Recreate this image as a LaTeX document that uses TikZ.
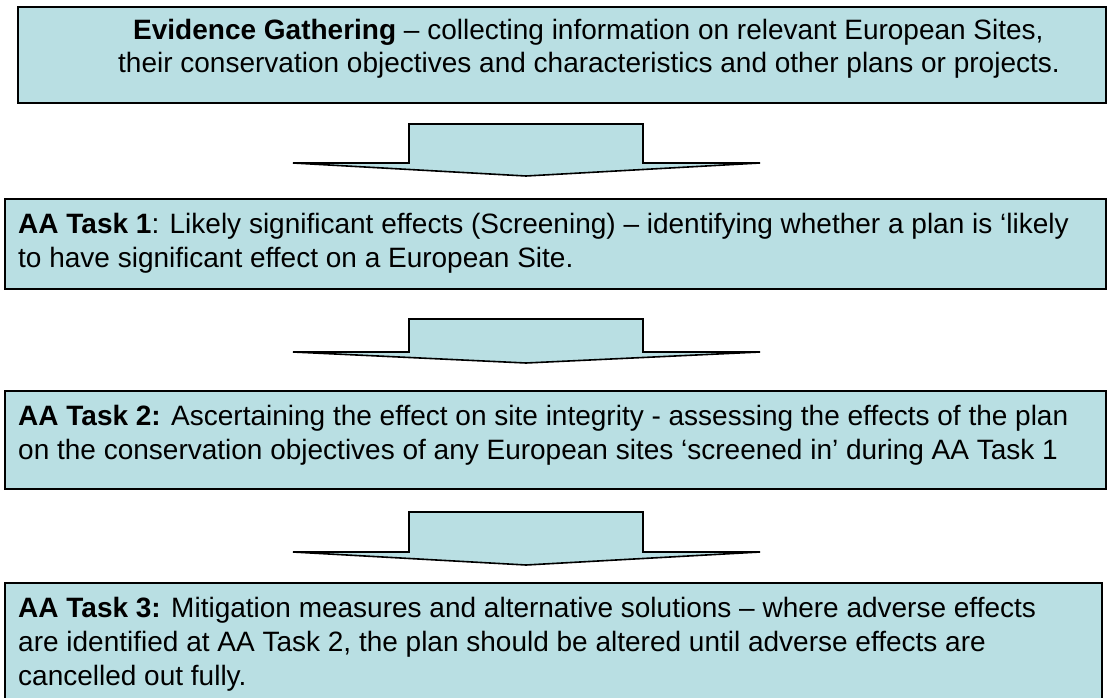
\documentclass[tikz,border=0pt]{standalone}
\usepackage{fontspec}
\setmainfont{Liberation Sans}
\definecolor{boxfill}{HTML}{B9DFE3}
\begin{document}
\begin{tikzpicture}[x=1pt,y=-1pt,
  box/.style={draw=black,line width=1.6pt,fill=boxfill},
  blockarrow/.style={draw=black,line width=1.6pt,fill=boxfill,line join=miter},
  txt/.style={anchor=base west,inner sep=0pt,font=\fontsize{28}{33}\selectfont}]
\useasboundingbox (0,0) rectangle (1108,698);
\begin{scope}
\clip (0,0) rectangle (1108,698);
% boxes
\draw[box] (18,7) rectangle (1106,103);
\draw[box] (5,199) rectangle (1106,289);
\draw[box] (5,391) rectangle (1106,489);
\draw[box] (5,583) rectangle (1102,710);
\end{scope}
% block arrows
\draw[blockarrow] (409,124) -- (643,124) -- (643,163) -- (760,163) -- (526,176) -- (293,163) -- (409,163) -- cycle;
\draw[blockarrow] (409,319) -- (643,319) -- (643,352) -- (760,352) -- (526,363) -- (293,352) -- (409,352) -- cycle;
\draw[blockarrow] (409,512) -- (643,512) -- (643,552) -- (760,552) -- (526,565) -- (293,552) -- (409,552) -- cycle;
% texts
\node[txt] (t1a) at (133,40) {\textbf{Evidence Gathering} – collecting information on relevant European Sites,};
\node[txt] (t1b) at (118,73) {their conservation objectives and characteristics and other plans or projects.};
\node[txt] (t2a) at (18,233) {\textbf{AA Task 1}: Likely significant effects (Screening) – identifying whether a plan is ‘likely};
\node[txt] (t2b) at (18,267) {to have significant effect on a European Site.};
\node[txt] (t3a) at (18,425) {\textbf{AA Task 2:} Ascertaining the effect on site integrity - assessing the effects of the plan};
\node[txt] (t3b) at (18,459) {on the conservation objectives of any European sites ‘screened in’ during AA Task 1};
\node[txt] (t4a) at (18,617) {\textbf{AA Task 3:} Mitigation measures and alternative solutions – where adverse effects};
\node[txt] (t4b) at (18,651) {are identified at AA Task 2, the plan should be altered until adverse effects are};
\node[txt] (t4c) at (18,685) {cancelled out fully.};
\end{tikzpicture}
\end{document}
